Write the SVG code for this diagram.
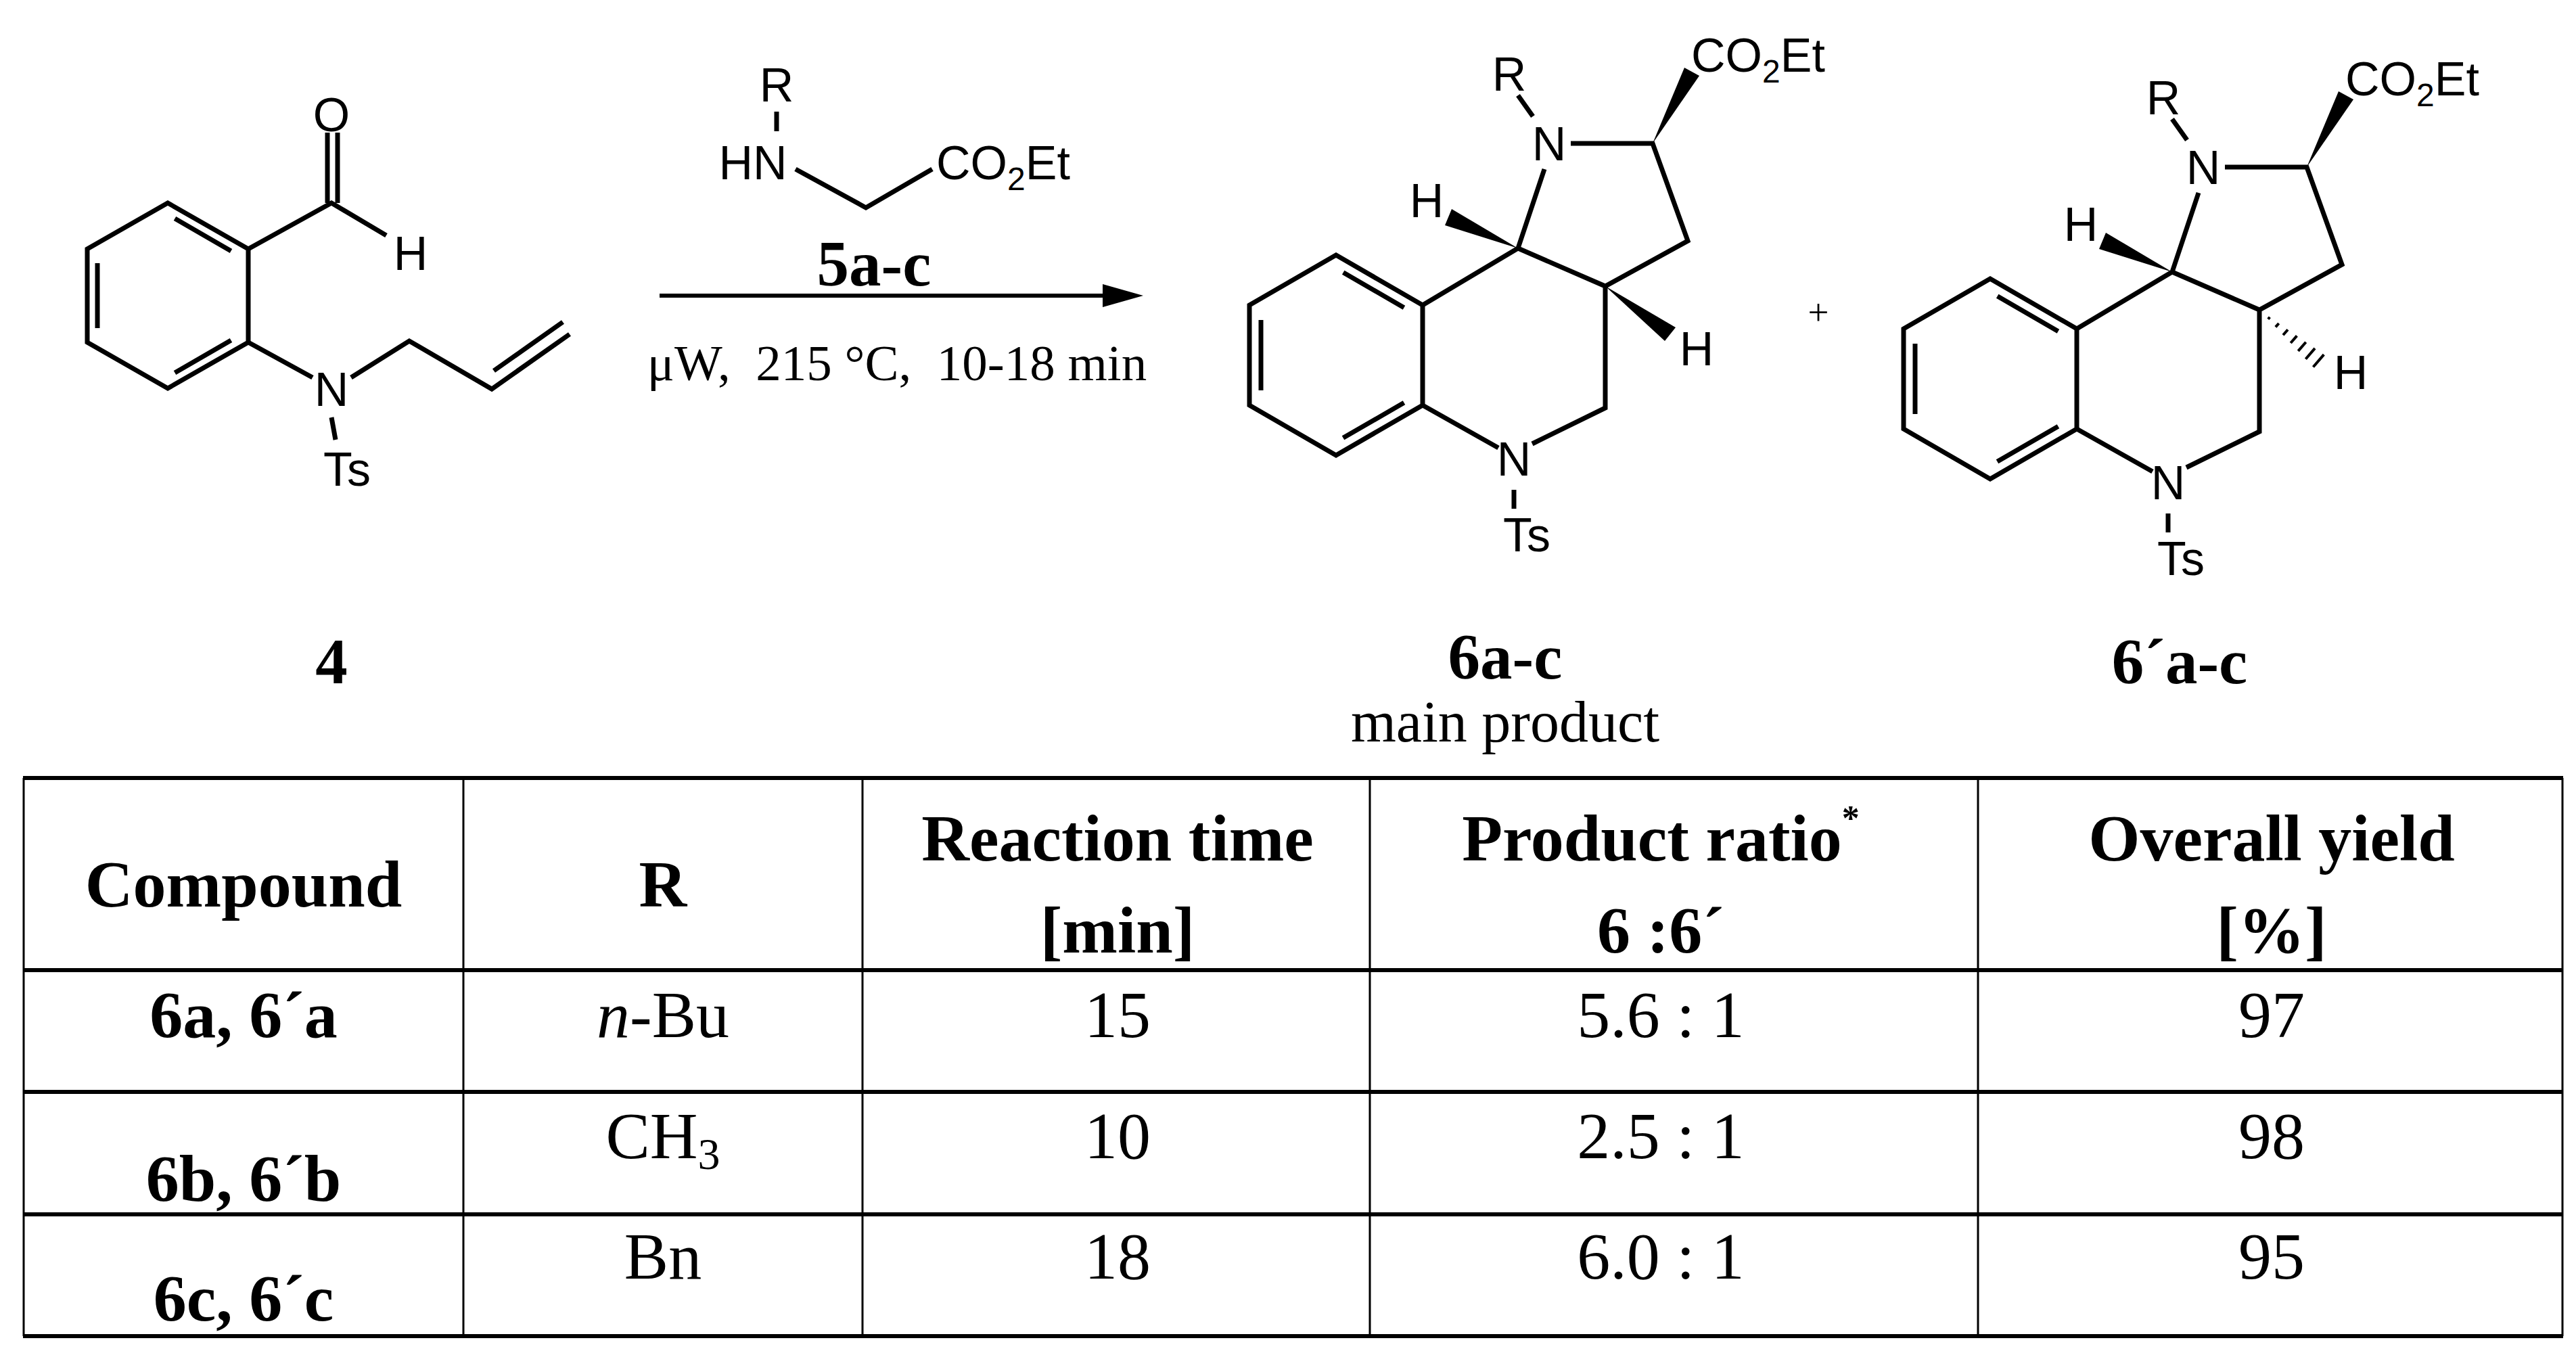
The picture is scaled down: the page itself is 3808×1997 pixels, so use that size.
<svg xmlns="http://www.w3.org/2000/svg" xmlns:xlink="http://www.w3.org/1999/xlink" width="3808" height="1997" viewBox="0 0 3808 1997">
<style>
.b{stroke:#000;stroke-width:7;fill:none;stroke-linecap:butt}
.a{font-family:"Liberation Sans",Arial,sans-serif;font-size:70px;fill:#000}
.s{font-size:48px}
.t{font-family:"Liberation Serif","Times New Roman",serif;fill:#000;text-anchor:middle}
.tb{font-weight:bold;font-size:98px}
.tn{font-size:98px}
.tl{stroke:#000;fill:none}
</style>
<defs>
<g id="skel">
<path class="b" d="M1975,377 L2103,451 L2103,599 L1975,673 L1847,599 L1847,451 Z"/>
<path class="b" d="M1985.7,402.8 L2075.5,454.7 M1864,473 L1864,577 M2075.5,595.3 L1985.5,647.3"/>
<path class="b" d="M2103,451 L2244,367 L2373,423 L2495,356 L2443,212 L2322,212 M2283,250 L2244,367 M2244,141 L2266,172 M2373,423 L2373,603 L2265,656 M2103,599 L2215,662 M2238,724 L2238,752"/>
<polygon points="2443,212 2512,112 2490,100"/>
<polygon points="2244,367 2146,309 2136,333"/>
<text class="a" x="2290" y="237" text-anchor="middle">N</text>
<text class="a" x="2231" y="134" text-anchor="middle">R</text>
<text class="a" x="2238" y="703" text-anchor="middle">N</text>
<text class="a" x="2257" y="815" text-anchor="middle">Ts</text>
<text class="a" x="2500" y="106">CO<tspan class="s" dy="16">2</tspan><tspan dy="-16">Et</tspan></text>
<text class="a" x="2109" y="321" text-anchor="middle">H</text>
<text class="a" x="2508" y="540" text-anchor="middle">H</text>
</g>
</defs>
<rect width="3808" height="1997" fill="#fff"/>
<g id="compound4">
<path class="b" d="M248,300 L367,368 L367,506 L248,574 L129,506 L129,368 Z"/>
<path class="b" d="M258.5,323 L341.5,371 M144,389 L144,485 M341.5,503 L258.5,551"/>
<path class="b" d="M367,368 L490,300 L571,348 M484,300 L484,196 M499,300 L499,196 M367,506 L462,558 M519,558 L605,504 L727,575 L842,494 M730,548 L832,476 M490,617 L496,650"/>
<text class="a" x="490" y="194" text-anchor="middle">O</text>
<text class="a" x="607" y="399" text-anchor="middle">H</text>
<text class="a" x="490" y="600" text-anchor="middle">N</text>
<text class="a" x="513" y="718" text-anchor="middle">Ts</text>
<text class="t" x="490" y="1010" style="font-weight:bold;font-size:95px">4</text>
</g>
<g id="reagent5">
<path class="b" d="M1148,165 L1148,194 M1176,250 L1280,307 L1378,250"/>
<text class="a" x="1148" y="150" text-anchor="middle">R</text>
<text class="a" x="1113" y="265" text-anchor="middle">HN</text>
<text class="a" x="1384" y="265">CO<tspan class="s" dy="16">2</tspan><tspan dy="-16">Et</tspan></text>
<text class="t" x="1292" y="422" style="font-weight:bold;font-size:95px">5a-c</text>
<text class="t" x="1326" y="562" style="font-size:75px;white-space:pre" xml:space="preserve">μW,  215 °C,  10-18 min</text>
</g>
<g id="connectors">
<line x1="975" y1="437" x2="1640" y2="437" stroke="#000" stroke-width="6"/>
<polygon points="1690,437 1630,420 1630,454"/>
</g>
<g id="product6">
<use xlink:href="#skel"/>
<polygon points="2373,423 2461,504 2477,484"/>
<text class="t" x="2225" y="1003" style="font-weight:bold;font-size:95px">6a-c</text>
<text class="t" x="2225" y="1096" style="font-size:86px">main product</text>
</g>
<text class="t" x="2688" y="480" style="font-size:55px">+</text>
<g id="product6p">
<use xlink:href="#skel" transform="translate(967,35)"/>
<path class="b" transform="translate(967,35)" style="stroke-width:4" d="M2385.8,436.7 L2388.4,433.7 M2396.9,448.4 L2401.7,443 M2408,460.2 L2415,452.2 M2419.2,472 L2428.4,461.4 M2430.3,483.9 L2441.7,470.7 M2441.4,495.7 L2455,479.9 M2452.5,507.5 L2468.3,489.1"/>
<text class="t" x="3222" y="1010" style="font-weight:bold;font-size:95px">6´a-c</text>
</g>
<g id="table">
<path class="tl" stroke-width="6" d="M34,1150 H3789 M34,1434 H3789 M34,1614 H3789 M34,1795 H3789 M34,1975 H3789"/>
<path class="tl" stroke-width="3" d="M35,1150 V1975 M685,1150 V1975 M1275,1150 V1975 M2025,1150 V1975 M2924,1150 V1975 M3788,1150 V1975"/>
<text class="t tb" x="360" y="1340">Compound</text>
<text class="t tb" x="980" y="1340">R</text>
<text class="t tb" x="1652" y="1272">Reaction time</text>
<text class="t tb" x="1652" y="1408">[min]</text>
<text class="t tb" x="2455" y="1272">Product ratio<tspan dy="-45" style="font-size:52px">*</tspan></text>
<text class="t tb" x="2455" y="1408">6 :6´</text>
<text class="t tb" x="3358" y="1272">Overall yield</text>
<text class="t tb" x="3358" y="1408">[%]</text>
<text class="t tb" x="360" y="1533">6a, 6´a</text>
<text class="t tn" x="980" y="1533"><tspan font-style="italic">n</tspan>-Bu</text>
<text class="t tn" x="1652" y="1533">15</text>
<text class="t tn" x="2455" y="1533">5.6 : 1</text>
<text class="t tn" x="3358" y="1533">97</text>
<text class="t tb" x="360" y="1775">6b, 6´b</text>
<text class="t tn" x="980" y="1712">CH<tspan dy="16" style="font-size:66px">3</tspan></text>
<text class="t tn" x="1652" y="1712">10</text>
<text class="t tn" x="2455" y="1712">2.5 : 1</text>
<text class="t tn" x="3358" y="1712">98</text>
<text class="t tb" x="360" y="1952">6c, 6´c</text>
<text class="t tn" x="980" y="1890">Bn</text>
<text class="t tn" x="1652" y="1890">18</text>
<text class="t tn" x="2455" y="1890">6.0 : 1</text>
<text class="t tn" x="3358" y="1890">95</text>
</g>
</svg>
